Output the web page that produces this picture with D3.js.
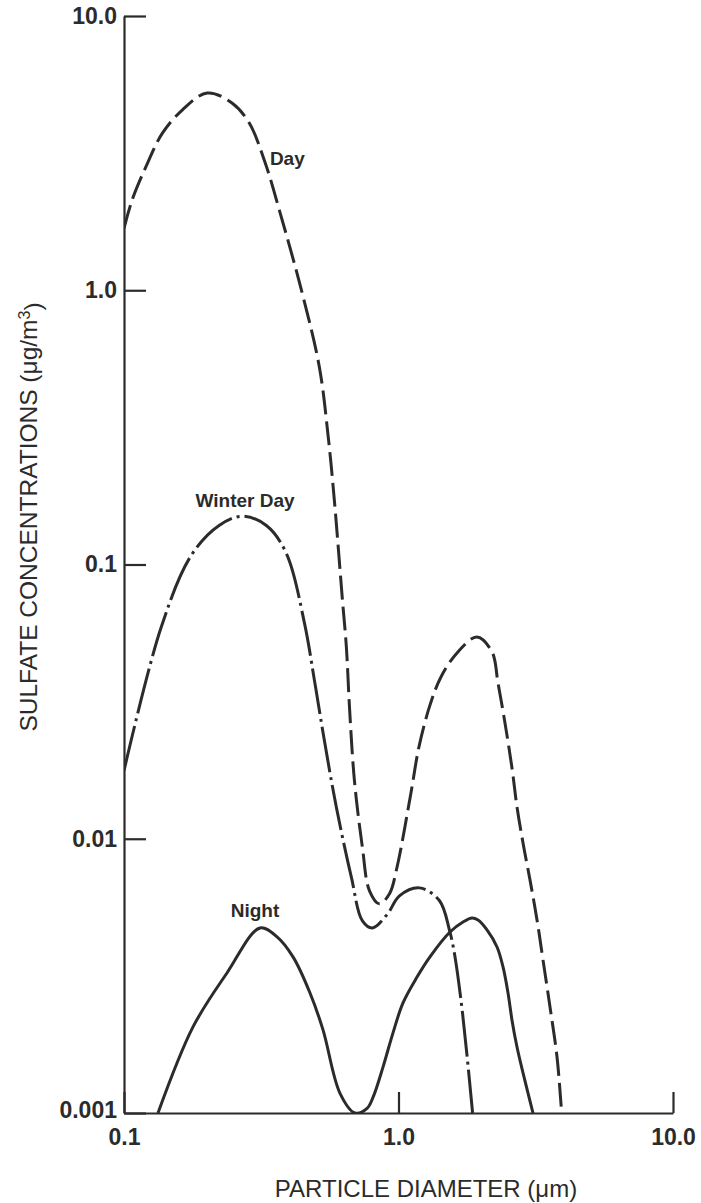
<html lang="en">
<head>
<meta charset="utf-8">
<title>Sulfate size distribution</title>
<script src="https://cdn.jsdelivr.net/npm/d3@7"></script>
<style>
body { margin: 0; background: #fff; }
text { font-family: "Liberation Sans", Arial, Helvetica, sans-serif; fill: #2b2b2b; }
</style>
</head>

<body></body>

<script type="text/javascript">

/*********************************************************************/
// Data (particle diameter in um, sulfate concentration in ug/m3)

var dayDiameter = [0.100, 0.107, 0.120, 0.138, 0.163, 0.201, 0.248, 0.286, 0.327, 0.368, 0.446, 0.515, 0.555, 0.584, 0.625, 0.646, 0.663, 0.691, 0.739, 0.784, 0.852, 0.927, 0.988, 1.110, 1.187, 1.302, 1.428, 1.634, 1.932, 2.191, 2.304, 2.443, 2.591, 2.702, 2.842, 3.013, 3.196, 3.360, 3.564, 3.780, 3.930];
var dayConc     = [1.68, 2.13, 2.81, 3.74, 4.54, 5.24, 4.81, 4.07, 2.91, 1.96, 0.975, 0.524, 0.290, 0.171, 0.074, 0.0498, 0.0301, 0.0163, 0.00927, 0.00646, 0.00579, 0.0063, 0.00789, 0.01469, 0.0216, 0.0307, 0.0389, 0.0476, 0.0544, 0.048, 0.037, 0.02642, 0.01811, 0.01305, 0.00965, 0.00708, 0.00506, 0.00362, 0.002435, 0.0016, 0.001];

var winterDiameter = [0.100, 0.1365, 0.1756, 0.222, 0.270, 0.330, 0.390, 0.454, 0.494, 0.537, 0.594, 0.674, 0.739, 0.804, 0.912, 1.008, 1.193, 1.411, 1.535, 1.600, 1.712, 1.862];
var winterConc     = [0.0177, 0.0589, 0.1078, 0.1387, 0.150, 0.1387, 0.110, 0.0614, 0.0378, 0.0228, 0.0130, 0.00721, 0.00502, 0.00473, 0.00532, 0.00619, 0.00662, 0.00594, 0.00462, 0.0038, 0.0023, 0.001];

var nightDiameter = [0.133, 0.1784, 0.2372, 0.3129, 0.361, 0.4128, 0.476, 0.5309, 0.6122, 0.694, 0.768, 0.8074, 0.878, 0.955, 1.0385, 1.168, 1.302, 1.540, 1.718, 1.853, 1.949, 2.101, 2.285, 2.403, 2.506, 2.591, 2.702, 2.842, 3.090];
var nightConc     = [0.001, 0.00206, 0.00324, 0.00473, 0.00439, 0.00371, 0.00274, 0.00201, 0.00118, 0.001, 0.00104, 0.00114, 0.00147, 0.00196, 0.00252, 0.00313, 0.00371, 0.00457, 0.00497, 0.00514, 0.00505, 0.00465, 0.00403, 0.00341, 0.00274, 0.00218, 0.00174, 0.0014, 0.001];

var xTicks = [0.1, 1, 10];
var xTickLabels = ["0.1", "1.0", "10.0"];
var yTicks = [10, 1, 0.1, 0.01, 0.001];
var yTickLabels = ["10.0", "1.0", "0.1", "0.01", "0.001"];

var seriesLabels = ["Day", "Winter Day", "Night"];
var labelDiameter = [0.34, 0.276, 0.30];
var labelConc = [2.86, 0.162, 0.00519];

/*********************************************************************/
// Canvas

width = 701;
height = 1203;

var svg = d3.select("body")
	.append("svg")
	.attr("id", "canvas")
	.attr("width", width)
	.attr("height", height);

var x = d3.scaleLog().domain([0.1, 10]).range([124, 673]);
var y = d3.scaleLog().domain([0.001, 10]).range([1113, 16]);

var ink = "#2b2b2b";

/*********************************************************************/
// Axes

var yAxis = d3.axisLeft(y)
	.tickValues(yTicks)
	.tickFormat(function(d, i){ return yTickLabels[i]; })
	.tickSizeInner(-22)
	.tickSizeOuter(0)
	.tickPadding(7);

var gy = svg.append("g")
	.attr("transform", "translate(" +x(0.1)+ ",0)")
	.call(yAxis);

var xAxis = d3.axisBottom(x)
	.tickValues(xTicks)
	.tickFormat(function(d, i){ return xTickLabels[i]; })
	.tickSizeInner(-21)
	.tickSizeOuter(0)
	.tickPadding(16);

var gx = svg.append("g")
	.attr("transform", "translate(0," +y(0.001)+ ")")
	.call(xAxis);

svg.selectAll(".domain, .tick line")
	.attr("stroke", ink)
	.attr("stroke-width", 2.2);

svg.selectAll(".tick text")
	.style("font-size", "23px")
	.style("font-weight", "bold")
	.attr("fill", ink);

// label 0.001 sits a bit above the corner
gy.selectAll(".tick text")
	.filter(function(d){ return d == 0.001; })
	.attr("dy", "0.2em");

/*********************************************************************/
// Axis titles

svg.append("text")
	.attr("x", 426)
	.attr("y", 1197)
	.attr("text-anchor", "middle")
	.style("font-size", "24px")
	.text("PARTICLE DIAMETER (\u03bcm)");

var yt = svg.append("text")
	.attr("transform", "translate(37,517) rotate(-90)")
	.attr("text-anchor", "middle")
	.style("font-size", "24.5px");
yt.append("tspan").text("SULFATE CONCENTRATIONS (\u03bcg/m");
yt.append("tspan").attr("dy", "-0.45em").style("font-size", "16px").text("3");
yt.append("tspan").attr("dy", "0.45em").text(")");

/*********************************************************************/
// Curves

svg.append("clipPath")
	.attr("id", "plotClip")
	.append("rect")
	.attr("x", x(0.1))
	.attr("y", 0)
	.attr("width", x(10) - x(0.1))
	.attr("height", y(0.001));

var curve = d3.line()
	.x(function(d){ return x(d[0]); })
	.y(function(d){ return y(d[1]); })
	.curve(d3.curveCatmullRom.alpha(0.5));

function pairs(ds, cs){
	return ds.map(function(d, i){ return [d, cs[i]]; });
}

var series = [
	{ pts: pairs(dayDiameter, dayConc), dash: "24,7" },
	{ pts: pairs(winterDiameter, winterConc), dash: "46,5,3,5" },
	{ pts: pairs(nightDiameter, nightConc), dash: null }
];

svg.append("g")
	.attr("clip-path", "url(#plotClip)")
	.selectAll("path")
	.data(series)
	.enter()
	.append("path")
	.attr("d", function(d){ return curve(d.pts); })
	.attr("fill", "none")
	.attr("stroke", ink)
	.attr("stroke-width", 3)
	.attr("stroke-dasharray", function(d){ return d.dash; });

/*********************************************************************/
// Curve labels

svg.selectAll(".curveLabel")
	.data(seriesLabels)
	.enter()
	.append("text")
	.attr("class", "curveLabel")
	.attr("x", function(d, i){ return x(labelDiameter[i]); })
	.attr("y", function(d, i){ return y(labelConc[i]); })
	.attr("text-anchor", function(d, i){ return i == 0 ? "start" : "middle"; })
	.style("font-size", "19px")
	.style("font-weight", "bold")
	.text(function(d){ return d; });

</script>
</html>
